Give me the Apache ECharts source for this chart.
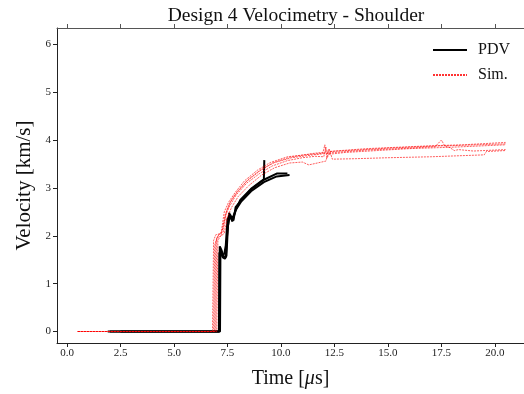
<!DOCTYPE html>
<html><head><meta charset="utf-8">
<script src="https://cdn.jsdelivr.net/npm/echarts@6/dist/echarts.min.js"></script>
<style>html,body{margin:0;padding:0;background:#fff}#c{width:524px;height:394px}</style>
</head><body><div id="c"></div>
<script>
const titleText = 'Design 4 Velocimetry - Shoulder';
const xTicks = [0, 2.5, 5, 7.5, 10, 12.5, 15, 17.5, 20];
const yTicks = [0, 1, 2, 3, 4, 5, 6];

// PDV traces [time (us), velocity (km/s)]
const pdvA = [[1.9,0],[7.12,0],[7.14,1.78],[7.22,1.7],[7.3,1.58],[7.42,1.55],[7.48,2.0],[7.58,2.48],[7.68,2.35],[7.78,2.32],[7.88,2.6],[8.1,2.72],[8.55,2.95],[9.2,3.17],[9.8,3.3],[10.3,3.3]];
const pdvB = [[2.0,0],[7.15,0],[7.17,1.72],[7.28,1.55],[7.38,1.52],[7.45,1.58],[7.52,2.2],[7.62,2.45],[7.72,2.3],[7.8,2.28],[7.9,2.55],[8.15,2.72],[8.6,2.93],[9.2,3.12],[9.8,3.24],[10.4,3.27]];
const pdvC = [[2.5,0],[7.1,0],[7.12,1.65],[7.25,1.6],[7.35,1.62],[7.42,1.8],[7.5,2.35],[7.6,2.42],[7.75,2.38],[7.85,2.5],[8.1,2.75],[8.6,2.98],[9.1,3.15],[9.2,3.18],[9.22,3.58]];

// Simulation traces
const simA = [[0.5,0],[6.9,0],[6.95,1.85],[7.05,2.0],[7.25,2.1],[7.4,2.45],[7.6,2.68],[7.9,2.88],[8.4,3.14],[9.0,3.35],[9.6,3.52],[10.4,3.64],[11.5,3.72],[12.5,3.77],[14,3.82],[15.5,3.85],[17,3.88],[18.5,3.9],[20.5,3.95]];
const simB = [[0.5,0],[6.8,0],[6.85,1.9],[6.95,2.02],[7.2,2.05],[7.35,2.5],[7.55,2.7],[7.85,2.9],[8.3,3.15],[8.9,3.37],[9.5,3.53],[10.3,3.65],[11.3,3.7],[11.95,3.72],[12.05,3.9],[12.15,3.62],[12.3,3.76],[13.5,3.79],[15,3.83],[17,3.87],[18.5,3.89],[20.5,3.92]];
const simC = [[0.5,0],[7.0,0],[7.05,1.9],[7.15,1.98],[7.35,2.05],[7.5,2.4],[7.7,2.6],[8.0,2.82],[8.5,3.05],[9.1,3.27],[9.7,3.42],[10.4,3.52],[11.0,3.54],[11.3,3.48],[11.7,3.52],[12.1,3.56],[12.25,3.82],[12.4,3.6],[13.5,3.61],[15,3.63],[17,3.65],[19.5,3.69],[19.6,3.76],[20.5,3.78]];
const simD = [[0.5,0],[6.95,0],[7.0,1.95],[7.1,2.02],[7.3,2.08],[7.45,2.5],[7.65,2.72],[7.95,2.92],[8.45,3.17],[9.05,3.38],[9.7,3.53],[10.5,3.63],[11.5,3.69],[12.5,3.74],[14,3.79],[15.5,3.82],[17.2,3.86],[17.5,4.0],[17.65,3.88],[17.9,3.84],[18.1,3.78],[18.3,3.8],[19,3.77],[20.5,3.8]];
const simE = [[0.5,0],[6.85,0],[6.9,1.8],[7.0,1.95],[7.2,2.0],[7.4,2.42],[7.6,2.62],[7.9,2.85],[8.4,3.1],[9.0,3.3],[9.6,3.46],[10.3,3.57],[11.0,3.63],[11.6,3.66],[12.0,3.65],[12.1,3.85],[12.2,3.7],[13,3.74],[14.5,3.78],[16,3.82],[18,3.85],[20.5,3.9]];

const pdvTraces = [pdvA, pdvB, pdvC];
const simTraces = [simA, simB, simC, simD, simE];

const FONT = 'Liberation Serif';
const chart = echarts.init(document.getElementById('c'), null, {renderer: 'canvas'});

const series = [];
pdvTraces.forEach(d => series.push({
  name: 'PDV', type: 'line', data: d, showSymbol: false, symbol: 'none',
  lineStyle: {color: '#000', width: 2}, itemStyle: {color: '#000'}, animation: false, z: 2
}));
simTraces.forEach(d => series.push({
  name: 'Sim.', type: 'line', data: d, showSymbol: false, symbol: 'none',
  lineStyle: {color: '#ff0000', width: 0.8, type: [2, 1], opacity: 0.8}, itemStyle: {color: '#ff0000'}, animation: false, z: 3
}));

chart.setOption({
  backgroundColor: '#fff',
  animation: false,
  title: {
    text: titleText, left: 291, top: 1, textAlign: 'center',
    textStyle: {fontFamily: FONT, fontSize: 19.5, fontWeight: 'normal', color: '#111'}
  },
  legend: {
    data: ['PDV', 'Sim.'], orient: 'vertical', left: 432, top: 42, padding: 0,
    itemWidth: 34, itemHeight: 14, itemGap: 9,
    itemStyle: {opacity: 0, borderWidth: 0},
    textStyle: {fontFamily: FONT, fontSize: 16, color: '#111', padding: [0, 0, 0, 6]}
  },
  grid: {left: 57, right: 0, top: 28, bottom: 51, containLabel: false},
  xAxis: [{
    type: 'value', min: -0.47, max: 21.36, position: 'bottom',
    name: 'Time [{i|\u03bc}s]', nameLocation: 'middle', nameGap: 26,
    nameTextStyle: {fontFamily: FONT, fontSize: 20, color: '#111',
      rich: {i: {fontFamily: FONT, fontSize: 20, fontStyle: 'italic', color: '#111'}}},
    axisLine: {show: true, onZero: false, lineStyle: {color: '#222', width: 1}},
    axisTick: {show: true, customValues: xTicks, length: 4, lineStyle: {color: '#222'}},
    axisLabel: {customValues: xTicks, formatter: v => v.toFixed(1), fontFamily: FONT, fontSize: 11, color: '#222', margin: 5},
    splitLine: {show: false}
  }, {
    type: 'value', min: -0.47, max: 21.36, position: 'top',
    axisLine: {show: true, onZero: false, lineStyle: {color: '#555', width: 1}},
    axisTick: {show: true, customValues: xTicks, length: 4, lineStyle: {color: '#555'}},
    axisLabel: {show: false},
    splitLine: {show: false}
  }],
  yAxis: {
    type: 'value', min: -0.24, max: 6.34,
    name: 'Velocity [km/s]', nameLocation: 'middle', nameGap: 10,
    nameTextStyle: {fontFamily: FONT, fontSize: 21, color: '#111'},
    axisLine: {show: true, onZero: false, lineStyle: {color: '#222', width: 1}},
    axisTick: {show: true, customValues: yTicks, length: 4, lineStyle: {color: '#222'}},
    axisLabel: {customValues: yTicks, formatter: v => String(v), fontFamily: FONT, fontSize: 11, color: '#222', margin: 6},
    splitLine: {show: false}
  },
  series: series
});
</script>
</body></html>
